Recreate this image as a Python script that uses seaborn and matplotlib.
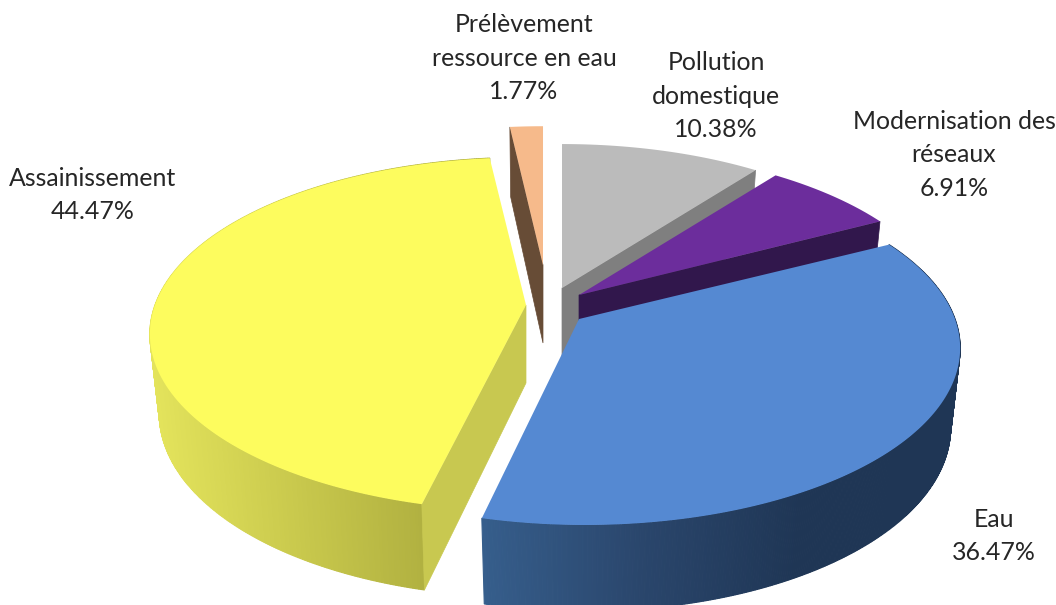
import numpy as np
import matplotlib
matplotlib.use("Agg")
import matplotlib.pyplot as plt
from matplotlib.path import Path
from matplotlib.transforms import Transform, Affine2D
import seaborn as sns

categories = ["Prélèvement\nressource en eau", "Pollution\ndomestique",
              "Modernisation des\nréseaux", "Eau", "Assainissement"]
values = [1.77, 10.38, 6.91, 36.47, 44.47]

top_colors = ["#F6BA8B", "#BBBBBB", "#6C2D9C", "#5589D2", "#FDFC5E"]
cut_colors = ["#674C36", "#7F7F7F", "#31174C", None, "#C8C850"]
wall_stops = [None, None, None,
              ["#365E8C", "#2A466C", "#1F3655", "#1F3655"],
              ["#E4E45C", "#C4C44A", "#A4A43A"]]

apex_x = [543, 562, 579, 579, 526]
apex_y = [265, 288, 295, 319, 305]
rim_scale = [0.94, 0.975, 0.99, 1.0, 1.0]
rim_shift = [0, 0, 0, 6, -1]
label_x = [524, 716, 954, 994, 93]
label_y = [58, 96, 155, 536, 195]

RX, RY, K = 370.0, 172.0, 0.165
DEPTH0, DEPTH_SLOPE, BOTTOM_SCALE = 78.0, 8.0, 0.975


def project(x, y, cx, cy, scale=1.0, shift=0.0, bottom=False):
    """Perspective view of the unit pie plane, in pixel-like data units."""
    x, y = np.asarray(x, float), np.asarray(y, float)
    s = 1.0 / (1.0 + K * y)
    sx = RX * x * s * scale + shift * np.hypot(x, y)
    sy = -RY * y * s * scale
    if bottom:
        sx = sx * BOTTOM_SCALE
        sy = sy + DEPTH0 - DEPTH_SLOPE * y
    return cx + sx, cy + sy


class PieView(Transform):
    input_dims = output_dims = 2
    is_affine = False
    has_inverse = False

    def __init__(self, cx, cy, scale, shift):
        super().__init__()
        self.args = (cx, cy, scale, shift)

    def transform_non_affine(self, pts):
        pts = np.asarray(pts, float)
        return np.column_stack(project(pts[:, 0], pts[:, 1], *self.args))

    def transform_path_non_affine(self, path):
        flat = path.transformed(Affine2D().scale(2000)).to_polygons(closed_only=True)[0] / 2000
        return Path(self.transform_non_affine(flat), closed=True)


sns.set_theme(style="white")
plt.rcParams["font.family"] = ["Lato", "DejaVu Sans"]

fig = plt.figure(figsize=(10.56, 6.05), dpi=100)
ax = fig.add_axes([0, 0, 1, 1])

wedges, _ = ax.pie(values, startangle=96.37, counterclock=False, colors=top_colors,
                   wedgeprops={"linewidth": 0})
ax.set_aspect("auto")
ax.set_xlim(0, 1056)
ax.set_ylim(605, 0)
ax.axis("off")

# draw order, back to front; the radial edge whose cut face shows
layers = {1: 1, 2: 2, 3: 3, 0: 4, 4: 5}
cut_angle = {0: "theta2", 1: "theta1", 2: "theta1", 4: "theta2"}

for i, w in enumerate(wedges):
    cx, cy = apex_x[i], apex_y[i]
    args = (cx, cy, rim_scale[i], rim_shift[i])
    z = layers[i] * 10
    w.set_transform(PieView(*args) + ax.transData)
    w.set_zorder(z + 5)
    w.set_clip_on(False)

    if wall_stops[i] is not None:
        th = np.radians(np.linspace(w.theta1, w.theta2, 400))
        xt, yt = project(np.cos(th), np.sin(th), *args)
        xb, yb = project(np.cos(th), np.sin(th), *args, bottom=True)
        ramp = sns.blend_palette(wall_stops[i], 256)
        lo, hi = min(xt.min(), xb.min()), max(xt.max(), xb.max())
        for j in range(len(th) - 1):
            c = ramp[int(255 * (0.5 * (xt[j] + xt[j + 1]) - lo) / (hi - lo))]
            ax.fill([xt[j], xt[j + 1], xb[j + 1], xb[j]],
                    [yt[j], yt[j + 1], yb[j + 1], yb[j]],
                    color=c, lw=0.8, zorder=z)

    if i in cut_angle:
        a = np.radians(getattr(w, cut_angle[i]))
        ox, oy = project(np.cos(a), np.sin(a), *args)
        bx, by = project(np.cos(a), np.sin(a), *args, bottom=True)
        ax.fill([cx, ox, bx, cx], [cy, oy, by, cy + DEPTH0],
                color=cut_colors[i], lw=0.5, zorder=z + 2)

for name, v, x, y in zip(categories, values, label_x, label_y):
    ax.text(x, y, f"{name}\n{v:.2f}%", ha="center", va="center", fontsize=17.9,
            color="#262626", linespacing=1.56, zorder=100)

fig.savefig("out.png", dpi=100)
